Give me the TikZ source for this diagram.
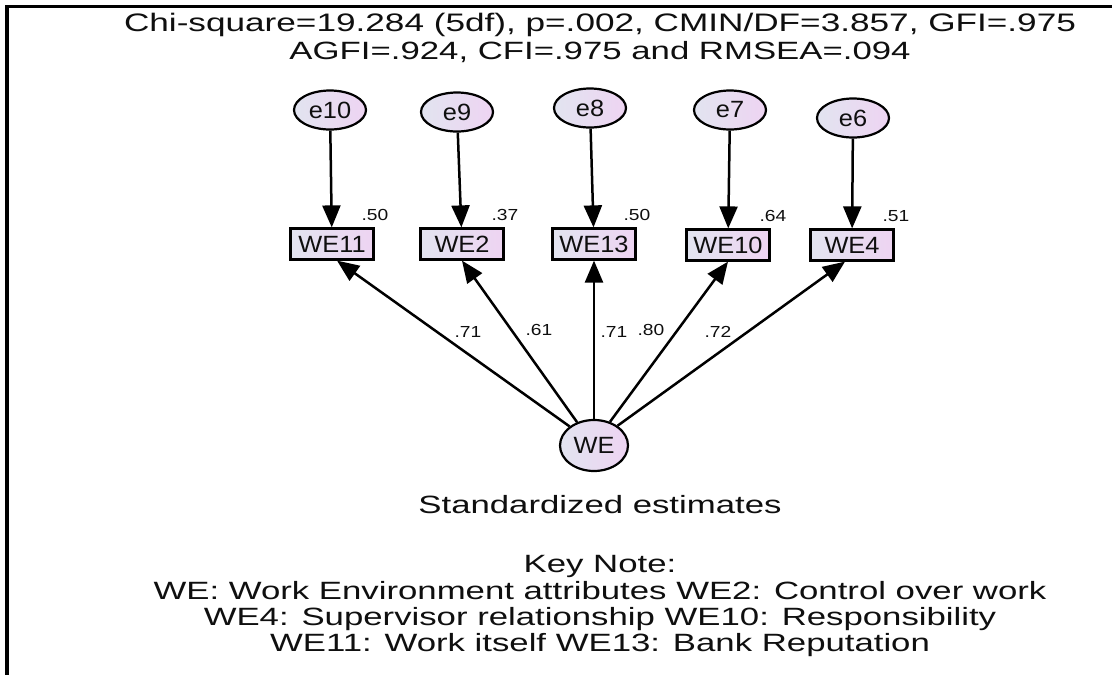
\documentclass[tikz,border=0pt]{standalone}
\usepackage{fontspec}
\setmainfont{Liberation Sans}
\newfontfamily\capfont[FakeStretch=1.39]{Liberation Sans}
\newfontfamily\lblfont[FakeStretch=1.08]{Liberation Sans}
\newfontfamily\numfont[FakeStretch=1.2]{Liberation Sans}
\usetikzlibrary{shapes.geometric,arrows.meta}
\definecolor{fillL}{RGB}{226,228,240}
\definecolor{fillR}{RGB}{238,212,242}
\definecolor{txt}{RGB}{15,15,15}
\begin{document}
\begin{tikzpicture}[x=1pt,y=-1pt,
  errnode/.style={ellipse,draw=black,line width=2.2pt,left color=fillL,right color=fillR,
    minimum width=72pt,minimum height=39pt,inner sep=0pt,text=txt,
    font=\lblfont\fontsize{23.5}{25}\selectfont},
  latnode/.style={errnode,minimum width=68pt,minimum height=51pt},
  obsnode/.style={rectangle,draw=black,line width=2.2pt,left color=fillL,right color=fillR,
    minimum width=83pt,minimum height=31pt,inner sep=0pt,text=txt,
    font=\lblfont\fontsize{23.5}{25}\selectfont},
  numlbl/.style={inner sep=0pt,text=txt,font=\numfont\fontsize{16}{18}\selectfont},
  captext/.style={inner sep=0pt,anchor=base,text=txt,font=\capfont\fontsize{25}{27}\selectfont},
  arr/.style={-{Triangle[length=22pt,width=18pt]},line width=2.5pt,draw=black}
]
\fill[white] (0,0) rectangle (1112,675);
\useasboundingbox (0,0) rectangle (1112,675);
\draw[line width=3.5pt] (7,675) -- (7,6.5) -- (1112,6.5);

% title
\node[captext] (t1) at (600,31) {\fontsize{25.3}{27}\selectfont Chi-square=19.284 (5df), p=.002, CMIN/DF=3.857, GFI=.975};
\node[captext] (t2) at (600,59) {AGFI=.924, CFI=.975 and RMSEA=.094};

% error terms
\node[errnode] (e10) at (330,110) {e10};
\node[errnode] (e9) at (457,112) {e9};
\node[errnode] (e8) at (590,108) {e8};
\node[errnode] (e7) at (730,110) {e7};
\node[errnode] (e6) at (853,118) {e6};

% observed variables
\node[obsnode] (WE11) at (332,244) {WE11};
\node[obsnode] (WE2) at (462,244) {WE2};
\node[obsnode] (WE13) at (594,244) {WE13};
\node[obsnode] (WE10) at (728,245) {WE10};
\node[obsnode] (WE4) at (852,245) {WE4};

% latent
\node[latnode] (WE) at (594,445.5) {WE};

% error arrows
\draw[arr] (e10) -- (WE11);
\draw[arr] (e9) -- (WE2);
\draw[arr] (e8) -- (WE13);
\draw[arr] (e7) -- (WE10);
\draw[arr] (e6) -- (WE4);

% loadings
\draw[arr] (WE.142) -- ([xshift=5pt]WE11.south);
\draw[arr] (WE.126) -- (WE2.south);
\draw[arr] (WE.90) -- (WE13.south);
\draw[arr] (WE.56) -- (WE10.south);
\draw[arr] (WE.40) -- ([xshift=-7pt]WE4.south);

% R^2 labels
\node[numlbl] (r11) at (375,215) {.50};
\node[numlbl] (r2) at (505,215) {.37};
\node[numlbl] (r13) at (637,215) {.50};
\node[numlbl] (r10) at (773,216) {.64};
\node[numlbl] (r4) at (896,216) {.51};

% loading labels
\node[numlbl] (l11) at (468,332) {.71};
\node[numlbl] (l2) at (539,330) {.61};
\node[numlbl] (l13) at (614,332) {.71};
\node[numlbl] (l10) at (651,330) {.80};
\node[numlbl] (l4) at (718,332) {.72};

% captions
\node[captext] (std) at (600,513) {Standardized estimates};
\node[captext] (key) at (600,572) {Key Note:};
\node[captext] (k1) at (600,599) {WE: Work Environment attributes WE2: Control over work};
\node[captext] (k2) at (600,625) {WE4: Supervisor relationship WE10: Responsibility};
\node[captext] (k3) at (600,651) {WE11: Work itself WE13: Bank Reputation};
\end{tikzpicture}
\end{document}
